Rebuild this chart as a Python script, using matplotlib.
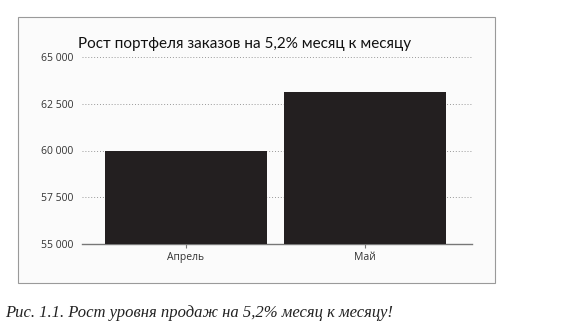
import matplotlib.pyplot as plt
import matplotlib.patches as mpatches

# Data
months = ["Апрель", "Май"]
orders = [60000, 63120]
y_ticks = [55000, 57500, 60000, 62500, 65000]
y_tick_labels = ["55 000", "57 500", "60 000", "62 500", "65 000"]

title = "Рост портфеля заказов на 5,2% месяц к месяцу"
caption = "Рис. 1.1. Рост уровня продаж на 5,2% месяц к месяцу!"

fig = plt.figure(figsize=(5.77, 3.35), dpi=100)
fig.patch.set_facecolor("white")

# Outer frame around the chart
W, H = 577, 335
frame = mpatches.Rectangle((18 / W, 1 - 283 / H), (495 - 18) / W, (283 - 17) / H,
                           transform=fig.transFigure, facecolor="#fbfbfb",
                           edgecolor="#9a9a9a", linewidth=0.8, zorder=-1)
fig.patches.append(frame)

ax = fig.add_axes([82 / W, 1 - 244 / H, (472 - 82) / W, (244 - 57) / H])
ax.set_facecolor("none")

x = range(len(months))
ax.bar(x, orders, width=0.9, color="#231f20", zorder=3)

ax.set_xlim(-0.581, 1.598)
ax.set_ylim(55000, 65000)
ax.set_yticks(y_ticks)
ax.set_yticklabels(y_tick_labels, fontsize=7.5, color="#333333", family="Open Sans")
ax.set_xticks(list(x))
ax.set_xticklabels(months, fontsize=7.5, color="#333333", family="Open Sans")
ax.tick_params(axis="y", length=0, pad=6)
ax.tick_params(axis="x", length=3, color="#777777", pad=3)

ax.grid(axis="y", linestyle=(0, (1, 2)), color="#999999", linewidth=0.7, zorder=1)
ax.set_axisbelow(True)
for s in ["top", "right", "left"]:
    ax.spines[s].set_visible(False)
ax.spines["bottom"].set_color("#777777")
ax.spines["bottom"].set_linewidth(1.0)

fig.text(78 / W, 1 - 44 / H, title, fontsize=11, family="Lato",
         color="#111111", va="center", ha="left")

fig.text(5 / W, 1 - 313 / H, caption, fontsize=12, family="Liberation Serif",
         style="italic", color="#222222", va="center", ha="left")

fig.savefig("out.png", dpi=100)
